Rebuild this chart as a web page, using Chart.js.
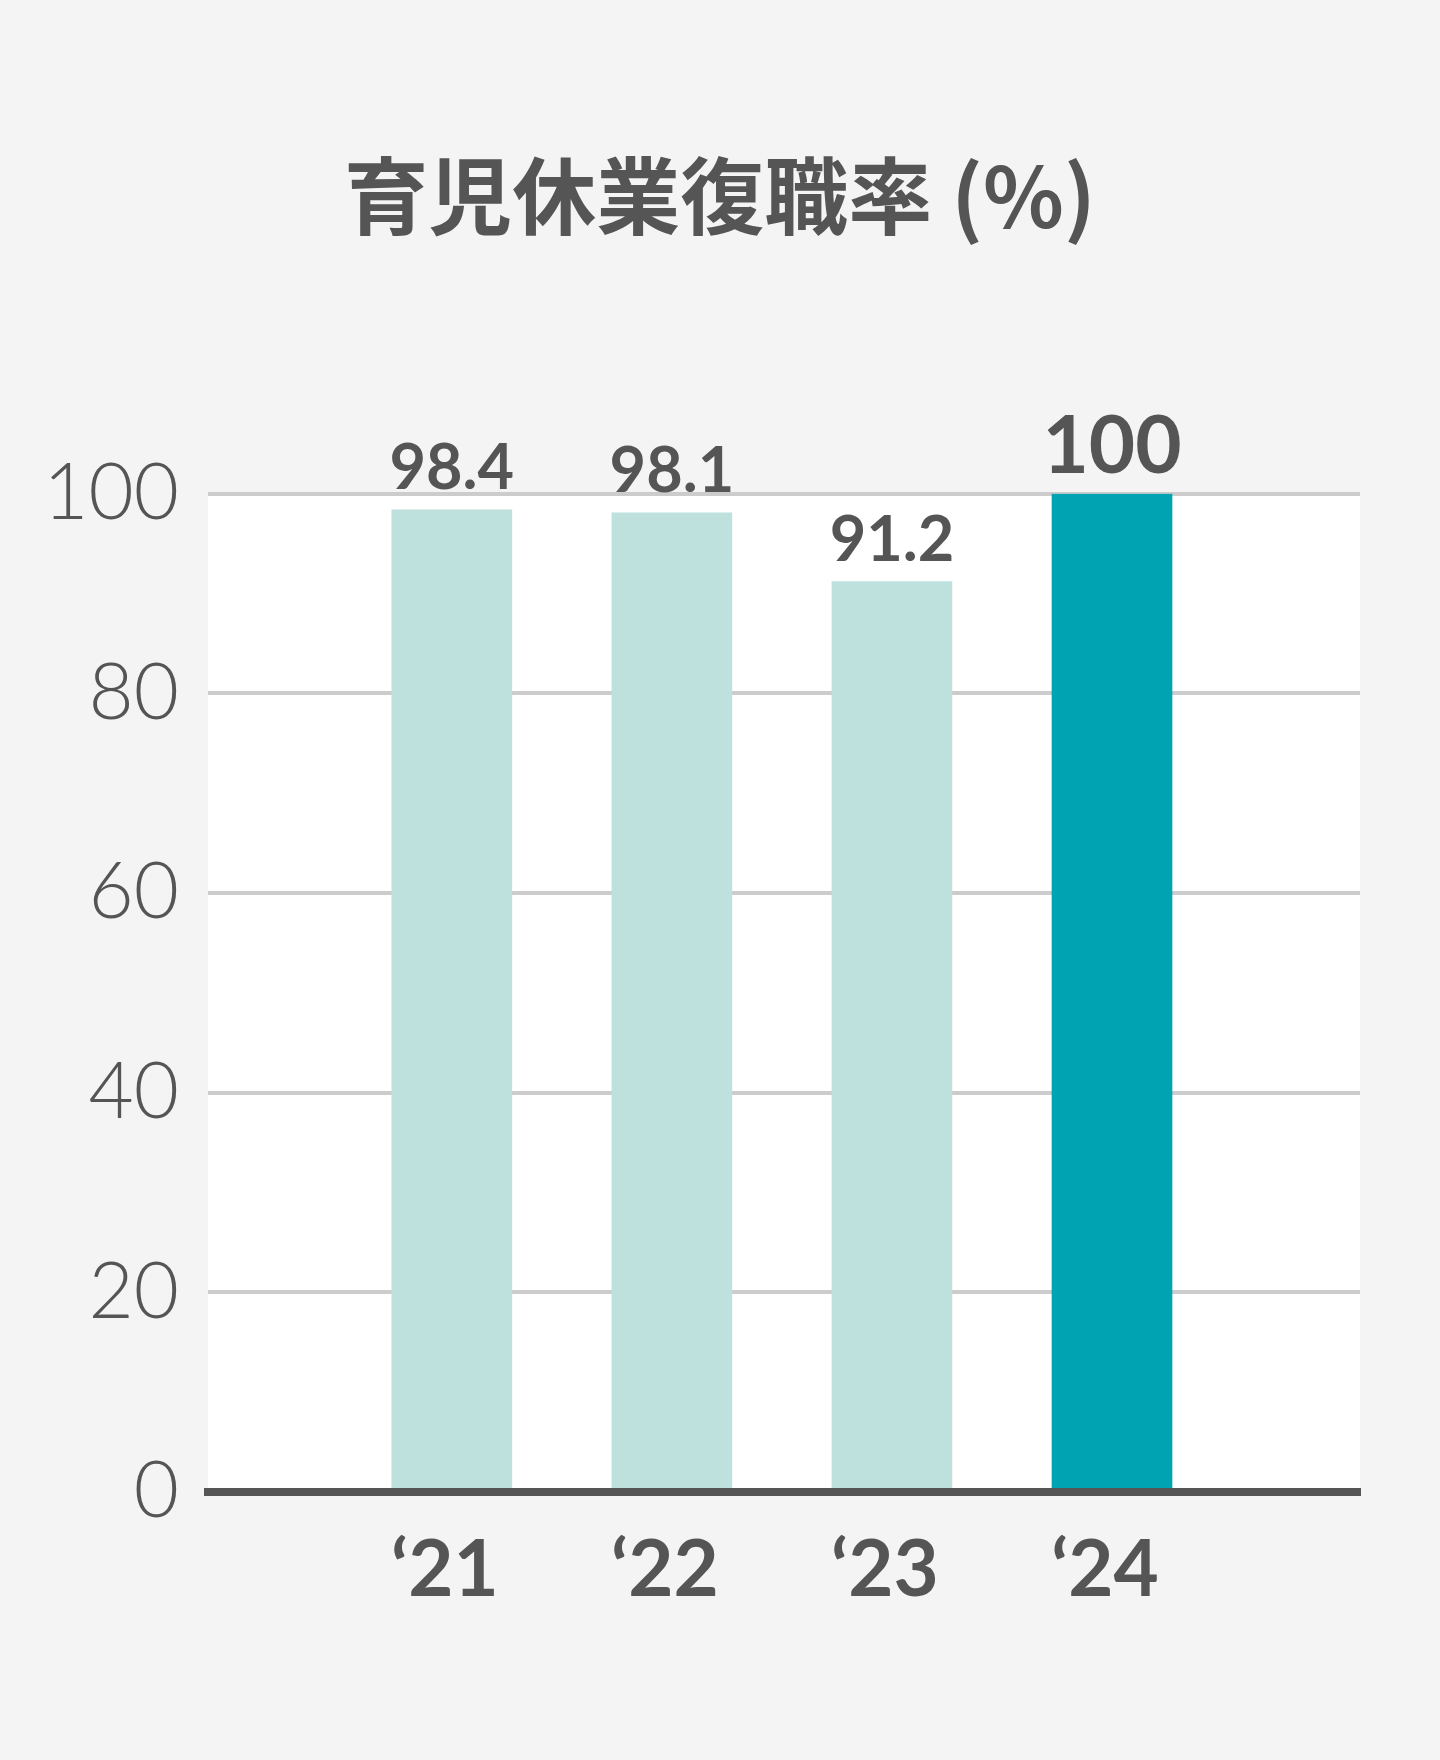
<!DOCTYPE html>
<html lang="ja">
<head>
<meta charset="utf-8">
<title>育児休業復職率 (%)</title>
<script src="https://cdn.jsdelivr.net/npm/chart.js@4.4.1/dist/chart.umd.min.js"></script>
<style>
  html, body { margin: 0; padding: 0; background: #f4f4f4; }
  #wrap { width: 1440px; height: 1760px; }
</style>
</head>
<body>
<div id="wrap"><canvas id="returnRateChart" width="1440" height="1760"></canvas></div>
<script>
// 育児休業復職率 - 年度ごとの値
const years = ['‘21', '‘22', '‘23', '‘24'];
const returnRates = [98.4, 98.1, 91.2, 100];
const valueLabels = ['98.4', '98.1', '91.2', '100'];
const yTicks = [0, 20, 40, 60, 80, 100];

(function() {
  'use strict';

  const TEXT = '#555555';
  const LIGHT = '#bee1de';
  const DARK = '#00a3b2';
  const last = years.length - 1;

  // プロット領域だけ白く塗る
  const plotBg = {
    id: 'plotBg',
    beforeDraw(chart) {
      const { ctx, chartArea: a } = chart;
      ctx.save();
      ctx.fillStyle = '#ffffff';
      ctx.fillRect(a.left, a.top, a.right - a.left, a.bottom - a.top);
      ctx.restore();
    }
  };

  // 棒の上の数値
  const valueText = {
    id: 'valueText',
    afterDatasetsDraw(chart) {
      const { ctx } = chart;
      const meta = chart.getDatasetMeta(0);
      ctx.save();
      ctx.fillStyle = TEXT;
      ctx.textAlign = 'center';
      ctx.textBaseline = 'alphabetic';
      meta.data.forEach((bar, i) => {
        ctx.font = (i === last ? '700 80px' : '700 63px') + ' Lato';
        ctx.fillText(valueLabels[i], bar.x, bar.y - 21);
      });
      ctx.restore();
    }
  };

  new Chart(document.getElementById('returnRateChart'), {
    type: 'bar',
    data: {
      datasets: [{
        data: returnRates.map((v, i) => ({ x: i, y: v })),
        backgroundColor: ctx => ctx.dataIndex === last ? DARK : LIGHT,
        borderWidth: 0,
        barThickness: 120
      }]
    },
    options: {
      responsive: false,
      devicePixelRatio: 1,
      animation: false,
      layout: { padding: 0 },
      plugins: {
        legend: { display: false },
        tooltip: { enabled: false },
        title: {
          display: true,
          text: '育児休業復職率 (%)',
          color: TEXT,
          font: { family: '"Noto Sans CJK JP", "Noto Sans", sans-serif', size: 84, weight: '700', lineHeight: 1.2 },
          padding: { top: 146, bottom: 247 }
        }
      },
      scales: {
        x: {
          type: 'linear',
          offset: false,
          bounds: 'data',
          min: -1.108,
          max: 4.127,
          afterBuildTicks: axis => { axis.ticks = years.map((_, i) => ({ value: i })); },
          afterFit: axis => { axis.height = 268; },
          grid: { display: false },
          border: { display: true, color: TEXT, width: 8, z: 1 },
          ticks: {
            color: TEXT,
            padding: 24,
            labelOffset: -7,
            font: { family: 'Lato', size: 78, weight: '700' },
            callback: v => years[v]
          }
        },
        y: {
          min: 0,
          max: 100,
          afterBuildTicks: axis => { axis.ticks = yTicks.map(v => ({ value: v })); },
          afterFit: axis => { axis.width = 208; },
          grid: { color: '#cccccc', lineWidth: 4, drawTicks: false },
          border: { display: false },
          ticks: {
            color: TEXT,
            padding: 29,
            font: { family: 'Lato', size: 78, weight: '300' }
          }
        },
        // 右側の余白用 (表示なし)
        yRight: {
          position: 'right',
          afterFit: axis => { axis.width = 80; },
          grid: { display: false },
          border: { display: false },
          ticks: { display: false }
        }
      }
    },
    plugins: [plotBg, valueText]
  });
})();
</script>
</body>
</html>
